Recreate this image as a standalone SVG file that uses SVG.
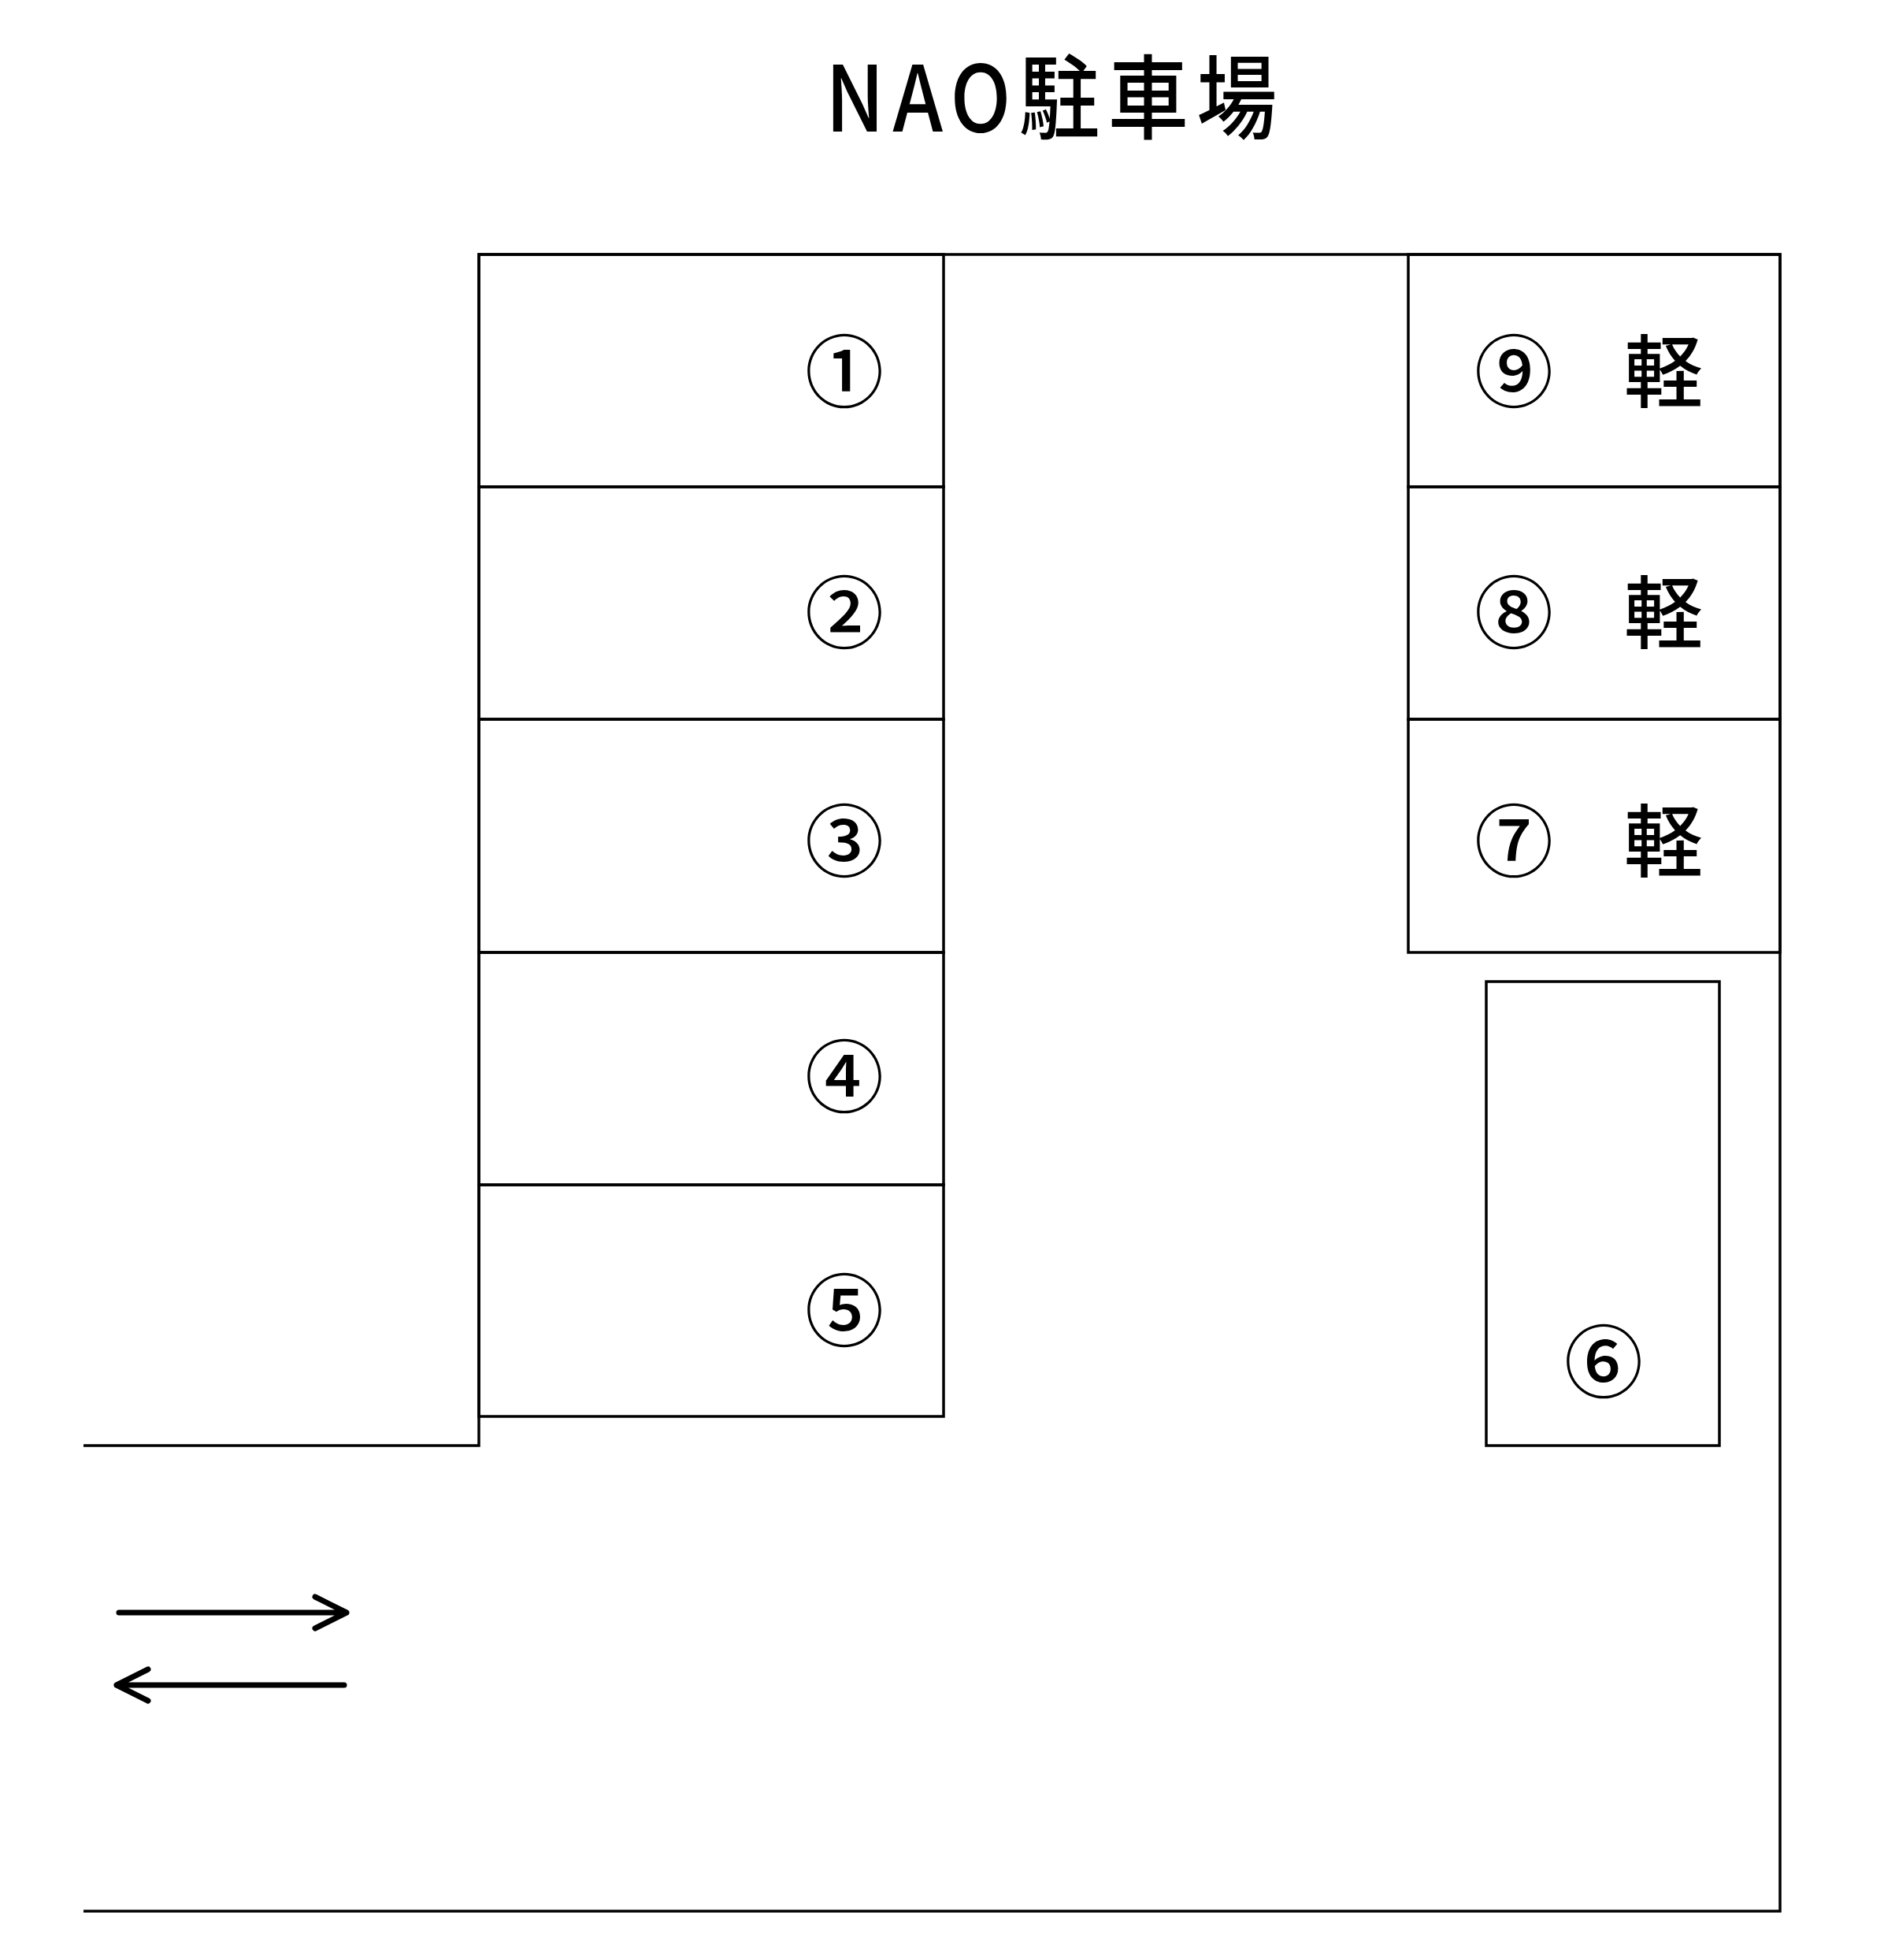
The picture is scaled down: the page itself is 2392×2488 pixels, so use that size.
<svg xmlns="http://www.w3.org/2000/svg" width="2392" height="2488" viewBox="0 0 2392 2488">
<style>
.l{stroke:#000;stroke-width:3.5;fill:none}
.n{font-family:"Noto Sans CJK JP","Liberation Sans",sans-serif;font-size:100px;text-anchor:middle;dominant-baseline:central;font-weight:500}
.a{stroke:#000;stroke-width:7;fill:none;stroke-linecap:round;stroke-linejoin:round}
</style>
<rect width="2392" height="2488" fill="#fff"/>
<text x="1340" y="116" class="n" style="font-size:116px;letter-spacing:12px" transform="translate(1340 0) scale(0.88 1) translate(-1340 0)">NAO駐車場</text>
<g id="outline">
<polyline class="l" points="106,1835 608,1835 608,323 2260,323 2260,2426 106,2426"/>
</g>
<g id="spaces">
<g id="s1"><rect class="l" x="608" y="323" width="590" height="295"/><text class="n" x="1072" y="465">①</text></g>
<g id="s2"><rect class="l" x="608" y="618" width="590" height="295"/><text class="n" x="1072" y="771">②</text></g>
<g id="s3"><rect class="l" x="608" y="913" width="590" height="296"/><text class="n" x="1072" y="1061">③</text></g>
<g id="s4"><rect class="l" x="608" y="1209" width="590" height="295"/><text class="n" x="1072" y="1360">④</text></g>
<g id="s5"><rect class="l" x="608" y="1504" width="590" height="294"/><text class="n" x="1072" y="1657">⑤</text></g>
<g id="s9"><rect class="l" x="1788" y="323" width="472" height="295"/><text class="n" x="1922" y="465">⑨</text><text class="n" x="2112" y="465">軽</text></g>
<g id="s8"><rect class="l" x="1788" y="618" width="472" height="295"/><text class="n" x="1922" y="771">⑧</text><text class="n" x="2112" y="771">軽</text></g>
<g id="s7"><rect class="l" x="1788" y="913" width="472" height="296"/><text class="n" x="1922" y="1061">⑦</text><text class="n" x="2112" y="1061">軽</text></g>
<g id="s6"><rect class="l" x="1887" y="1246" width="296" height="589"/><text class="n" x="2036" y="1722">⑥</text></g>
</g>
<g id="connectors">
<path class="a" d="M151,2047 H440 M400,2027 L440,2047 L400,2067"/>
<path class="a" d="M437,2139 H148 M188,2119 L148,2139 L188,2159"/>
</g>
</svg>
